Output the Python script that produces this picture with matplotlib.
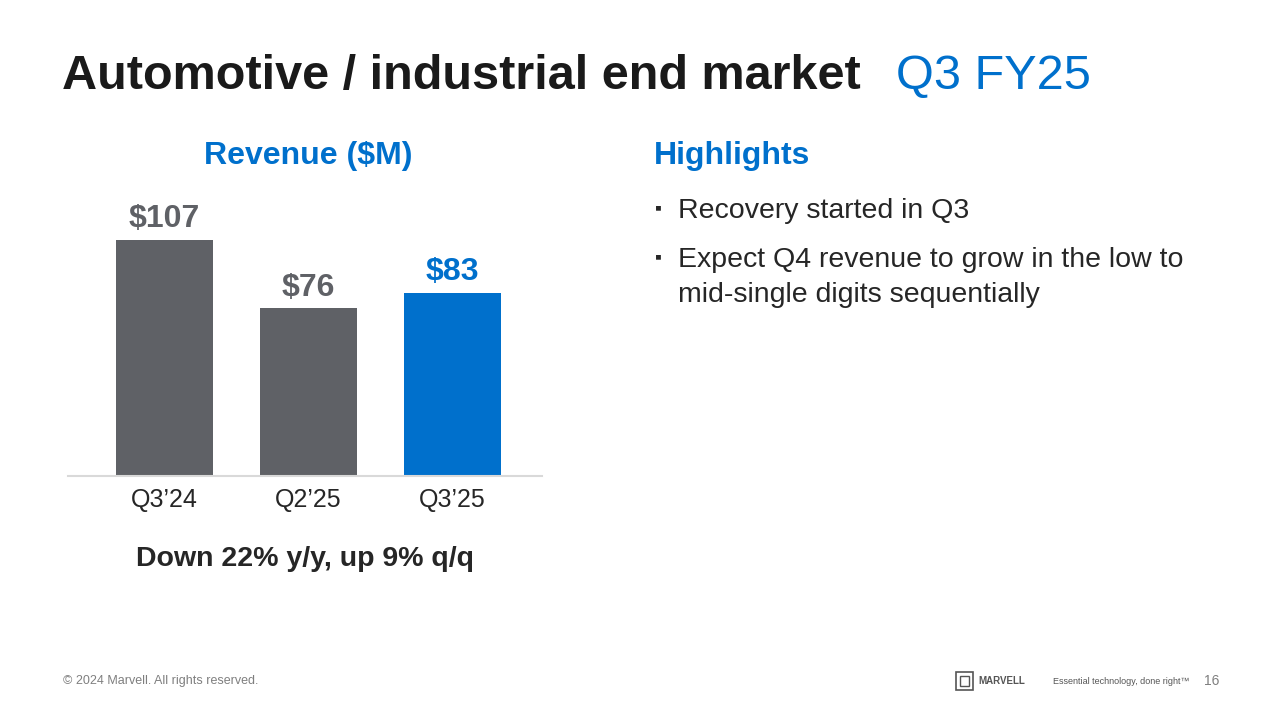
import matplotlib.pyplot as plt
from matplotlib.patches import Rectangle

quarters = ["Q3\u201924", "Q2\u201925", "Q3\u201925"]
revenue = [107, 76, 83]
labels = ["$107", "$76", "$83"]
bar_colors = ["#5f6166", "#5f6166", "#0070cc"]
label_colors = ["#5f6166", "#5f6166", "#0070cc"]
bullets = [["Recovery started in Q3"],
           ["Expect Q4 revenue to grow in the low to",
            "mid-single digits sequentially"]]

plt.rcParams['font.family'] = ['Liberation Sans', 'DejaVu Sans']
BLUE = "#0070cc"
DARK = "#262626"

fig = plt.figure(figsize=(12.8, 7.2), dpi=100)

# title
fig.text(62 / 1280, 1 - 77 / 720, "Automotive / industrial end market",
         fontsize=35, fontweight='bold', color="#1a1a1a", va='center', ha='left')
fig.text(896 / 1280, 1 - 77 / 720, "Q3 FY25", fontsize=35, color=BLUE,
         va='center', ha='left')

# chart
ax = fig.add_axes([68 / 1280, 1 - 476 / 720, 474 / 1280, 296 / 720])
x = range(len(quarters))
ax.bar(x, revenue, width=0.674, color=bar_colors, zorder=2)
ax.set_xlim(-0.67, 2.62)
ax.set_ylim(0, 134.2)
for i, v in enumerate(revenue):
    ax.annotate(labels[i], (i, v), xytext=(0, 4), textcoords='offset points',
                ha='center', va='bottom', fontsize=23, fontweight='bold',
                color=label_colors[i])
ax.set_xticks(list(x))
ax.set_xticklabels(quarters, fontsize=18, color=DARK)
ax.tick_params(axis='x', length=0, pad=9)
ax.set_yticks([])
for s in ['top', 'right', 'left']:
    ax.spines[s].set_visible(False)
ax.spines['bottom'].set_color("#d9d9d9")
ax.spines['bottom'].set_linewidth(1.5)
ax.patch.set_alpha(0)

fig.text(308 / 1280, 1 - 156 / 720, "Revenue ($M)", fontsize=23,
         fontweight='bold', color=BLUE, ha='center', va='center')
fig.text(305 / 1280, 1 - 559 / 720, "Down 22% y/y, up 9% q/q", fontsize=20.5,
         fontweight='bold', color=DARK, ha='center', va='center')

# highlights
fig.text(654 / 1280, 1 - 156 / 720, "Highlights", fontsize=23,
         fontweight='bold', color=BLUE, ha='left', va='center')
starts = [208, 257]
for y0, item in zip(starts, bullets):
    fig.text(655 / 1280, 1 - (y0 + 1) / 720, "\u25aa", fontsize=14, color=DARK,
             ha='left', va='center')
    for k, line in enumerate(item):
        fig.text(678 / 1280, 1 - (y0 + 35 * k) / 720, line, fontsize=20.5,
                 color=DARK, ha='left', va='center_baseline')

# footer
fig.text(63 / 1280, 1 - 681 / 720, "\u00a9 2024 Marvell. All rights reserved.",
         fontsize=9, color="#7f7f7f", ha='left', va='center')
fig.text(1212 / 1280, 1 - 681 / 720, "16", fontsize=10, color="#7f7f7f",
         ha='center', va='center')
fig.text(1053 / 1280, 1 - 681 / 720, "Essential technology, done right\u2122",
         fontsize=6.5, color="#555555", ha='left', va='center')
fig.patches.append(Rectangle((956 / 1280, 1 - 690 / 720), 17 / 1280, 18 / 720,
                             transform=fig.transFigure, fill=False,
                             edgecolor="#555555", linewidth=1.2))
fig.patches.append(Rectangle((960 / 1280, 1 - 686 / 720), 9 / 1280, 10 / 720,
                             transform=fig.transFigure, fill=False,
                             edgecolor="#555555", linewidth=1.0))
fig.text(978 / 1280, 1 - 681 / 720, "MARVELL", fontsize=7, fontweight='bold',
         color="#555555", ha='left', va='center')

fig.savefig("out.png", dpi=100, facecolor='white')
